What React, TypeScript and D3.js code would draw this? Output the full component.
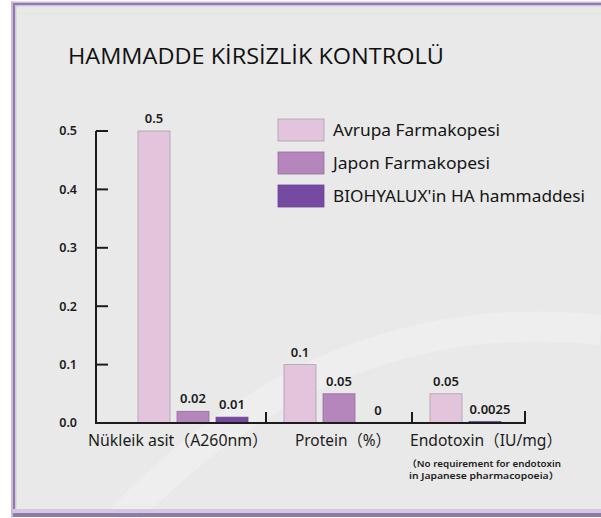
import * as d3 from "d3";
import React, { useEffect, useRef } from "react";

const categories = ["Nükleik asit（A260nm）", "Protein（%）", "Endotoxin（IU/mg）"];
const seriesNames = ["Avrupa Farmakopesi", "Japon Farmakopesi", "BIOHYALUX'in HA hammaddesi"];
const avrupa = [0.5, 0.1, 0.05];
const japon: (number | null)[] = [0.02, 0.05, null];
const biohyalux = [0.01, 0, 0.0025];
const yTicks = [0, 0.1, 0.2, 0.3, 0.4, 0.5];
const noteLines = ["（No requirement for endotoxin", "in Japanese pharmacopoeia）"];

const colors = ["#e2c5dc", "#b486bb", "#774aa1"];
const strokes = ["#ad9fab", "#94709b", "#6d4496"];
const FONT = "'Noto Sans', 'Noto Sans CJK JP', sans-serif";

const App = () => {
  const svgRef = useRef<SVGSVGElement>(null);

  useEffect(() => {
    const svg = d3.select(svgRef.current);
    svg.selectAll("*").remove();

    const W = 601;
    const H = 518;

    // page + panel
    svg.append("rect").attr("width", W).attr("height", H).attr("fill", "#ffffff");
    svg.append("rect").attr("x", 12).attr("y", 2).attr("width", W).attr("height", 515).attr("fill", "#e8e9e8");

    // faint watermark swoosh
    svg
      .append("path")
      .attr("d", "M 120 520 Q 330 300 601 330")
      .attr("fill", "none")
      .attr("stroke", "#f1f1f1")
      .attr("stroke-width", 30)
      .attr("opacity", 0.6);

    // frame lines
    const frame = svg.append("g");
    frame.append("rect").attr("x", 11).attr("y", 1.5).attr("width", 2).attr("height", 516).attr("fill", "#cdb9df");
    frame.append("rect").attr("x", 13).attr("y", 3).attr("width", 2).attr("height", 513).attr("fill", "#8e7ca8");
    frame.append("rect").attr("x", 15).attr("y", 5).attr("width", 1.5).attr("height", 508).attr("fill", "#d3c4e2");
    frame.append("rect").attr("x", 11).attr("y", 1.5).attr("width", W).attr("height", 1.5).attr("fill", "#cdb9df");
    frame.append("rect").attr("x", 13).attr("y", 3).attr("width", W).attr("height", 2).attr("fill", "#8e7ca8");
    frame.append("rect").attr("x", 15).attr("y", 5).attr("width", W).attr("height", 1.5).attr("fill", "#d3c4e2");
    frame.append("rect").attr("x", 16).attr("y", 13).attr("width", W).attr("height", 1).attr("fill", "#dfe8da");
    frame.append("rect").attr("x", 16).attr("y", 506).attr("width", W).attr("height", 1).attr("fill", "#e3ece0");
    frame.append("rect").attr("x", 13).attr("y", 509).attr("width", W).attr("height", 4).attr("fill", "#d6c6e4");
    frame.append("rect").attr("x", 13).attr("y", 513).attr("width", W).attr("height", 4).attr("fill", "#8e7ca8");

    // title
    svg
      .append("text")
      .attr("x", 68)
      .attr("y", 64)
      .attr("font-family", "'Open Sans', 'Noto Sans', sans-serif")
      .attr("font-size", 22.5)
      .attr("fill", "#111111")
      .attr("textLength", 376)
      .attr("lengthAdjust", "spacingAndGlyphs")
      .text("HAMMADDE KİRSİZLİK KONTROLÜ");

    const axisX = 96;
    const axisEnd = 525;

    const y = d3.scaleLinear().domain([0, 0.5]).range([423, 131]);

    const x0 = d3.scaleBand().domain(categories).range([138, 540]).paddingInner(0.2466).paddingOuter(0);
    const x1 = d3.scaleBand<number>().domain([0, 1, 2]).range([0, x0.bandwidth()]).paddingInner(0.18);

    // bars
    const bars: { cat: string; s: number; slot: number; v: number }[] = [];
    categories.forEach((c, i) => {
      const vals = [avrupa[i], japon[i], biohyalux[i]];
      let slot = 0;
      vals.forEach((v, s) => {
        if (v === null || v === undefined) return;
        bars.push({ cat: c, s, slot, v });
        slot++;
      });
    });

    const g = svg.append("g");
    g.selectAll("rect.bar")
      .data(bars.filter((d) => d.v > 0))
      .join("rect")
      .attr("class", "bar")
      .attr("x", (d) => x0(d.cat)! + x1(d.slot)!)
      .attr("y", (d) => y(d.v))
      .attr("width", x1.bandwidth())
      .attr("height", (d) => Math.max(y(0) - y(d.v), 2))
      .attr("fill", (d) => colors[d.s])
      .attr("stroke", (d) => strokes[d.s])
      .attr("stroke-width", 0.8);

    g.selectAll("text.val")
      .data(bars)
      .join("text")
      .attr("class", "val")
      .attr("x", (d) => x0(d.cat)! + x1(d.slot)! + x1.bandwidth() / 2 + (d.v === 0.0025 ? 5 : 0))
      .attr("y", (d) => y(d.v) - 8)
      .attr("text-anchor", "middle")
      .attr("font-family", FONT)
      .attr("font-size", 13)
      .attr("font-weight", 600)
      .attr("fill", "#1c1c1c")
      .text((d) => String(d.v));

    // axes
    const axis = svg.append("g").attr("stroke", "#1c1c1c").attr("stroke-width", 2).attr("fill", "none");
    axis.append("line").attr("x1", axisX).attr("x2", axisX).attr("y1", y(0.5)).attr("y2", y(0) + 1);
    axis.append("line").attr("x1", axisX).attr("x2", axisEnd).attr("y1", y(0)).attr("y2", y(0));
    axis
      .selectAll("line.tick")
      .data(yTicks.filter((t) => t > 0))
      .join("line")
      .attr("class", "tick")
      .attr("x1", axisX)
      .attr("x2", axisX + 12)
      .attr("y1", (d) => y(d))
      .attr("y2", (d) => y(d));

    const seps = categories.slice(1).map((c) => x0(c)! - (x0.step() * x0.paddingInner()) / 2);
    axis
      .selectAll("line.sep")
      .data(seps)
      .join("line")
      .attr("class", "sep")
      .attr("x1", (d) => d)
      .attr("x2", (d) => d)
      .attr("y1", y(0))
      .attr("y2", y(0) - 11);
    axis.append("line").attr("x1", axisEnd).attr("x2", axisEnd).attr("y1", y(0) + 1).attr("y2", y(0) - 12);

    svg
      .selectAll("text.ytick")
      .data(yTicks)
      .join("text")
      .attr("class", "ytick")
      .attr("x", 77)
      .attr("y", (d) => y(d))
      .attr("dy", "0.35em")
      .attr("text-anchor", "end")
      .attr("font-family", FONT)
      .attr("font-size", 12.5)
      .attr("font-weight", 600)
      .attr("fill", "#1c1c1c")
      .text((d) => d3.format(".1f")(d));

    // category labels
    const labelDx = [-15, 4, 1];
    const labelLen = [180, 96, 152];
    svg
      .selectAll("text.cat")
      .data(categories)
      .join("text")
      .attr("class", "cat")
      .attr("x", (d, i) => x0(d)! + x0.bandwidth() / 2 + labelDx[i])
      .attr("y", 446)
      .attr("text-anchor", "middle")
      .attr("font-family", FONT)
      .attr("font-size", 16)
      .attr("fill", "#1c1c1c")
      .attr("textLength", (d, i) => labelLen[i])
      .attr("lengthAdjust", "spacingAndGlyphs")
      .text((d) => d);

    svg
      .selectAll("text.note")
      .data(noteLines)
      .join("text")
      .attr("class", "note")
      .attr("x", 484)
      .attr("y", (d, i) => 467 + i * 12)
      .attr("text-anchor", "middle")
      .attr("font-family", FONT)
      .attr("font-size", 9)
      .attr("font-weight", 600)
      .attr("fill", "#1c1c1c")
      .attr("textLength", (d, i) => (i === 0 ? 154 : 150))
      .attr("lengthAdjust", "spacingAndGlyphs")
      .text((d) => d);

    // legend
    const legendLen = [167, 157, 252];
    const legend = svg
      .append("g")
      .selectAll("g")
      .data(seriesNames)
      .join("g")
      .attr("transform", (d, i) => `translate(278,${119 + i * 33})`);
    legend
      .append("rect")
      .attr("width", 46)
      .attr("height", 22)
      .attr("fill", (d, i) => colors[i])
      .attr("stroke", (d, i) => strokes[i])
      .attr("stroke-width", 0.8);
    legend
      .append("text")
      .attr("x", 55)
      .attr("y", 17)
      .attr("font-family", FONT)
      .attr("font-size", 16)
      .attr("fill", "#151515")
      .attr("textLength", (d, i) => legendLen[i])
      .attr("lengthAdjust", "spacingAndGlyphs")
      .text((d) => d);

    return () => {
      d3.select(svgRef.current).selectAll("*").remove();
    };
  }, []);

  return (
    <svg
      ref={svgRef}
      width={601}
      height={518}
      style={{ position: "absolute", left: 0, top: 0, display: "block" }}
    ></svg>
  );
};

export default App;
